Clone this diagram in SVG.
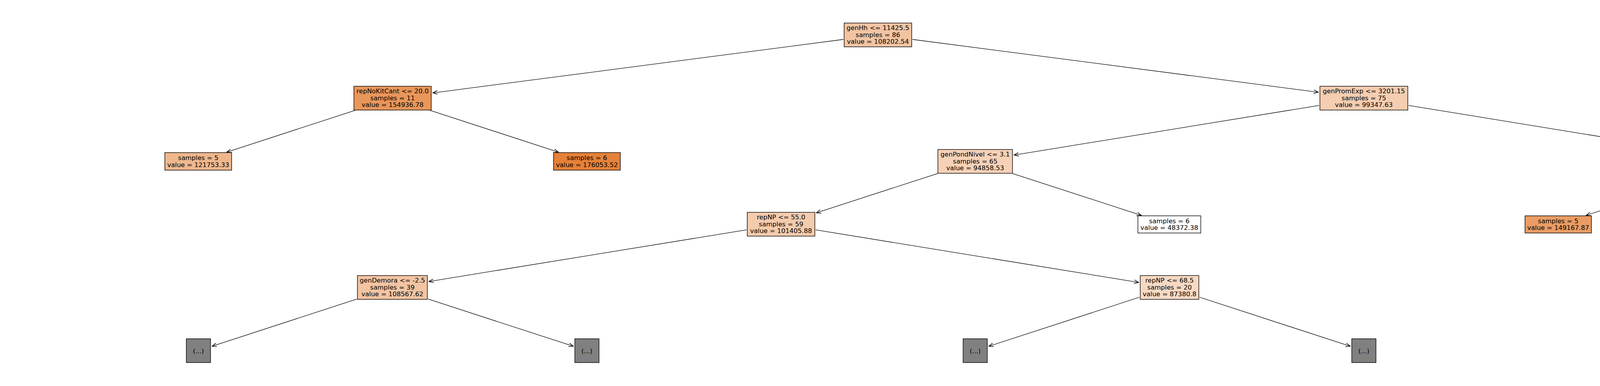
<svg xmlns="http://www.w3.org/2000/svg" width="5490" height="989" viewBox="0 0 5490 989">
<defs>
<style>
.box{stroke:#000;stroke-width:1.4}
.t{font-family:"DejaVu Sans","Liberation Sans",sans-serif;font-size:16.5px;fill:#000;text-anchor:middle}
.edge{stroke:#000;stroke-width:1.3;fill:none;marker-end:url(#ah)}
</style>
<marker id="ah" markerUnits="userSpaceOnUse" markerWidth="14" markerHeight="12" refX="11" refY="5" orient="auto" viewBox="0 0 12 10">
<path d="M1,1 L11,5 L1,9" fill="none" stroke="#000" stroke-width="1.3"/>
</marker>
</defs>
<rect width="5490" height="989" fill="#fff"/>
<g id="connectors">
<line class="edge" x1="2159" y1="101" x2="1108" y2="238.1"/>
<line class="edge" x1="2336" y1="101" x2="3375" y2="236.3"/>
<line class="edge" x1="909.4" y1="282.6" x2="580.4" y2="389.8"/>
<line class="edge" x1="1100.6" y1="282.6" x2="1429.6" y2="389.8"/>
<line class="edge" x1="3377" y1="270.1" x2="2595.9" y2="397.3"/>
<line class="edge" x1="3606" y1="270.1" x2="4387.1" y2="397.4"/>
<line class="edge" x1="2400.4" y1="444.6" x2="2089.8" y2="545.3"/>
<line class="edge" x1="2592.3" y1="444.6" x2="2922" y2="551.8"/>
<line class="edge" x1="4390.2" y1="444.6" x2="4060.5" y2="551.8"/>
<line class="edge" x1="4581.8" y1="444.6" x2="4911.5" y2="551.8"/>
<line class="edge" x1="1911" y1="588.9" x2="1097.9" y2="721.3"/>
<line class="edge" x1="2088" y1="588.9" x2="2915.1" y2="723.6"/>
<line class="edge" x1="913.1" y1="766.3" x2="542.8" y2="887.2"/>
<line class="edge" x1="1095.9" y1="766.2" x2="1467.7" y2="887.2"/>
<line class="edge" x1="2917.1" y1="761.5" x2="2531.3" y2="887.2"/>
<line class="edge" x1="3070.9" y1="761.5" x2="3456.7" y2="887.2"/>
</g>
<g id="n0"><rect class="box" x="2161" y="59" width="173" height="61" fill="#f3c4a2"/>
<text class="t"><tspan x="2247.5" y="77.3">genHh &lt;= 11425.5</tspan><tspan x="2247.5" y="94.8">samples = 86</tspan><tspan x="2247.5" y="112.3">value = 108202.54</tspan></text></g>
<g id="n1"><rect class="box" x="906" y="221" width="198" height="61" fill="#e9965a"/>
<text class="t"><tspan x="1005" y="239.3">repNoKitCant &lt;= 20.0</tspan><tspan x="1005" y="256.8">samples = 11</tspan><tspan x="1005" y="274.3">value = 154936.78</tspan></text></g>
<g id="n2"><rect class="box" x="3379" y="221" width="225" height="61" fill="#f5cdb0"/>
<text class="t"><tspan x="3491.5" y="239.3">genPromExp &lt;= 3201.15</tspan><tspan x="3491.5" y="256.8">samples = 75</tspan><tspan x="3491.5" y="274.3">value = 99347.63</tspan></text></g>
<g id="n3"><rect class="box" x="422" y="391" width="171" height="45" fill="#f0b78d"/>
<text class="t"><tspan x="507.5" y="410.2">samples = 5</tspan><tspan x="507.5" y="427.7">value = 121753.33</tspan></text></g>
<g id="n4"><rect class="box" x="1417" y="391" width="171" height="45" fill="#e58139"/>
<text class="t"><tspan x="1502.5" y="410.2">samples = 6</tspan><tspan x="1502.5" y="427.7">value = 176053.52</tspan></text></g>
<g id="n5"><rect class="box" x="2401" y="383" width="191" height="61" fill="#f6d1b7"/>
<text class="t"><tspan x="2496.5" y="401.3">genPondNivel &lt;= 3.1</tspan><tspan x="2496.5" y="418.8">samples = 65</tspan><tspan x="2496.5" y="436.3">value = 94858.53</tspan></text></g>
<g id="n6"><rect class="box" x="4391" y="383" width="190" height="61" fill="#efb388"/>
<text class="t"><tspan x="4486" y="401.3">moVariacion &lt;= 0.33</tspan><tspan x="4486" y="418.8">samples = 10</tspan><tspan x="4486" y="436.3">value = 125320.3</tspan></text></g>
<g id="n7"><rect class="box" x="1913" y="544" width="173" height="61" fill="#f4cbad"/>
<text class="t"><tspan x="1999.5" y="562.3">repNP &lt;= 55.0</tspan><tspan x="1999.5" y="579.8">samples = 59</tspan><tspan x="1999.5" y="597.3">value = 101405.88</tspan></text></g>
<g id="n8"><rect class="box" x="2913" y="553" width="161" height="44" fill="#ffffff"/>
<text class="t"><tspan x="2993.5" y="571.7">samples = 6</tspan><tspan x="2993.5" y="589.2">value = 48372.38</tspan></text></g>
<g id="n9"><rect class="box" x="3904" y="553" width="170" height="44" fill="#ea9c63"/>
<text class="t"><tspan x="3989" y="571.7">samples = 5</tspan><tspan x="3989" y="589.2">value = 149167.87</tspan></text></g>
<g id="n10"><rect class="box" x="4897" y="553" width="172" height="44" fill="#f4cbad"/>
<text class="t"><tspan x="4983" y="571.7">samples = 5</tspan><tspan x="4983" y="589.2">value = 101472.74</tspan></text></g>
<g id="n11"><rect class="box" x="915" y="706" width="179" height="61" fill="#f3c4a2"/>
<text class="t"><tspan x="1004.5" y="724.3">genDemora &lt;= -2.5</tspan><tspan x="1004.5" y="741.8">samples = 39</tspan><tspan x="1004.5" y="759.3">value = 108567.62</tspan></text></g>
<g id="n12"><rect class="box" x="2919" y="706" width="150" height="61" fill="#f7d9c3"/>
<text class="t"><tspan x="2994" y="724.3">repNP &lt;= 68.5</tspan><tspan x="2994" y="741.8">samples = 20</tspan><tspan x="2994" y="759.3">value = 87380.8</tspan></text></g>
<g id="n13"><rect class="box" x="477" y="868" width="62" height="61" fill="#808080"/><text class="t" x="508" y="904.5">(...)</text></g>
<g id="n14"><rect class="box" x="1471.5" y="868" width="62" height="61" fill="#808080"/><text class="t" x="1502.5" y="904.5">(...)</text></g>
<g id="n15"><rect class="box" x="2465.5" y="868" width="62" height="61" fill="#808080"/><text class="t" x="2496.5" y="904.5">(...)</text></g>
<g id="n16"><rect class="box" x="3460.5" y="868" width="62" height="61" fill="#808080"/><text class="t" x="3491.5" y="904.5">(...)</text></g>
</svg>
